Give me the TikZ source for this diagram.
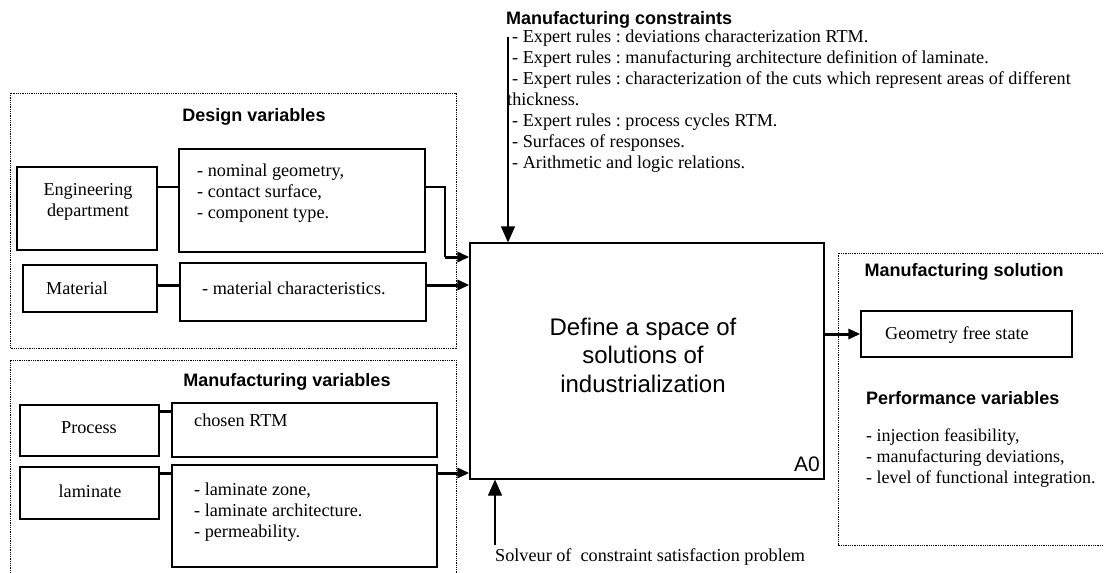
\documentclass[tikz,border=0pt]{standalone}
\usepackage{fontspec}
\setmainfont{Liberation Serif}
\setsansfont{Liberation Sans}
\usetikzlibrary{arrows.meta}
\frenchspacing
\begin{document}
\begin{tikzpicture}[x=1pt,y=-1pt,
  box/.style={draw, line width=1.3pt, rectangle, inner sep=0pt},
  tnr/.style={font=\frenchspacing\fontsize{18.2}{21}\selectfont, inner sep=0pt, align=left},
  tnrc/.style={font=\frenchspacing\fontsize{18.2}{21.5}\selectfont, inner sep=0pt, align=center},
  hd/.style={font=\sffamily\bfseries\fontsize{18}{22}\selectfont, inner sep=0pt},
  dotbox/.style={line width=0.9pt, dash pattern=on 0.9pt off 0.9pt},
  thinconn/.style={line width=1.2pt},
  thickconn/.style={line width=3pt},
  arr/.style={-{Triangle[length=12pt,width=10pt]}},
  bigarr/.style={line width=1.2pt, -{Triangle[length=16pt,width=14pt]}}]
\useasboundingbox (0,0) rectangle (1104,573);

% dotted groups
\draw[dotbox] (10,93) rectangle (456,348);
\draw[dotbox] (10,580) -- (10,360) -- (456,360) -- (456,580);
\draw[dotbox] (1110,253) -- (838,253) -- (838,545) -- (1110,545);

% titles
\node[hd] (tdes) at (254,117) {Design variables};
\node[hd] (tmanv) at (287,382) {Manufacturing variables};
\node[hd] (tsol) at (964,272) {Manufacturing solution};
\node[hd, anchor=west] (tperf) at (866,398) {Performance variables};
\node[hd, anchor=west] (tcons) at (506,20) {Manufacturing constraints};

% boxes
\node[box, minimum width=140pt, minimum height=83pt] (eng) at (87,208.5) {};
\node[box, minimum width=246pt, minimum height=103pt] (nom) at (302,200.5) {};
\node[box, minimum width=134pt, minimum height=47pt] (mat) at (90,288.5) {};
\node[box, minimum width=246pt, minimum height=58pt] (matc) at (303,292) {};
\node[box, minimum width=139pt, minimum height=51pt] (proc) at (89.5,430.5) {};
\node[box, minimum width=265pt, minimum height=54pt] (rtm) at (304.5,430) {};
\node[box, minimum width=139pt, minimum height=52pt] (lam) at (89.5,493) {};
\node[box, minimum width=265pt, minimum height=102pt] (lamz) at (304.5,516) {};
\node[box, line width=1.2pt, minimum width=354pt, minimum height=236pt] (main) at (647,361) {};
\node[box, minimum width=211pt, minimum height=46pt] (geom) at (966.5,334) {};

% texts
\node[tnrc] (engt) at (88,202) {Engineering\\department};
\node[tnr, anchor=west] (nomt) at (197,193) {- nominal geometry,\\- contact surface,\\- component type.};
\node[tnr] (matt) at (77,288) {Material};
\node[tnr, anchor=west] (matct) at (202,288) {- material characteristics.};
\node[tnr] (proct) at (89,428) {Process};
\node[tnr, anchor=west] (rtmt) at (194,420) {chosen RTM};
\node[tnr] (lamt) at (90,491) {laminate};
\node[tnr, anchor=west] (lamzt) at (194,512) {- laminate zone,\\- laminate architecture.\\- permeability.};
\node[font=\sffamily\fontsize{24}{28.5}\selectfont, align=center, inner sep=0pt] (maint) at (643,355) {Define a space of\\solutions of\\industrialization};
\node[font=\sffamily\fontsize{21}{24}\selectfont, inner sep=0pt, anchor=base east] (a0) at (820,471) {A0};
\node[tnr, anchor=west] (geomt) at (885,335) {Geometry free state};
\node[font=\frenchspacing\fontsize{18}{21}\selectfont, inner sep=0pt, align=left, anchor=west] (perft) at (866,458) {- injection feasibility,\\- manufacturing deviations,\\- level of functional integration.};
\node[tnr, anchor=west] (const) at (507,101) {\hspace*{5pt}- Expert rules : deviations characterization RTM.\\
\hspace*{5pt}- Expert rules : manufacturing architecture definition of laminate.\\
\hspace*{5pt}- Expert rules : characterization of the cuts which represent areas of different\\
thickness.\\
\hspace*{5pt}- Expert rules : process cycles RTM.\\
\hspace*{5pt}- Surfaces of responses.\\
\hspace*{5pt}- Arithmetic and logic relations.};
\node[tnr, anchor=base west] (solv) at (495,561) {Solveur of\ \ constraint satisfaction problem};

% connectors
\draw[thinconn] (eng.east |- 0,187) -- (nom.west |- 0,187);
\coordinate (bend1) at (445,187);
\coordinate (bend2) at (445,257);
\draw[thinconn] (nom.east |- bend1) -- (bend1) -- (bend2);
\draw[thickconn, arr] (bend2) -- (main.west |- bend2);
\draw[thickconn] (mat.east |- 0,285) -- (matc.west |- 0,285);
\draw[thickconn, arr] (matc.east |- 0,285) -- (main.west |- 0,285);
\draw[thickconn] (proc.east |- 0,411) -- (rtm.west |- 0,411);
\draw[thickconn] (lam.east |- 0,473) -- (lamz.west |- 0,473);
\draw[thickconn, arr] (lamz.east |- 0,473) -- (main.west |- 0,473);
\draw[thickconn, arr] (main.east |- geom.west) -- (geom.west);
\coordinate (ctop) at (508,37);
\draw[bigarr] (ctop) -- (ctop |- main.north);
\coordinate (cbot) at (495,545);
\draw[bigarr] (cbot) -- (cbot |- main.south);
\end{tikzpicture}
\end{document}
